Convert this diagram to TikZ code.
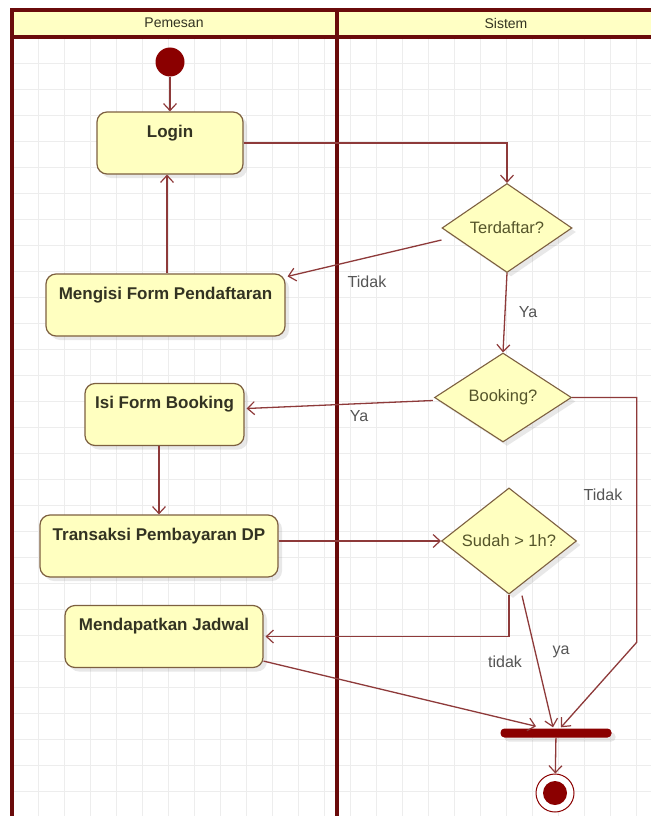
\documentclass[tikz,border=0pt]{standalone}
\usepackage{fontspec}
\setmainfont{Liberation Sans}
\usetikzlibrary{arrows.meta,shapes.geometric,shadows,calc}
\definecolor{lanec}{HTML}{6A0B0B}
\definecolor{hdr}{HTML}{FFFFC4}
\definecolor{nfill}{HTML}{FFFFC0}
\definecolor{nborder}{HTML}{7D6040}
\definecolor{conn}{HTML}{8E3A3A}
\definecolor{dotc}{HTML}{8B0000}
\definecolor{gridc}{HTML}{EDEDED}
\definecolor{ntext}{HTML}{333322}
\definecolor{dtext}{HTML}{55552A}
\definecolor{ltext}{HTML}{555555}
\begin{document}
\begin{tikzpicture}[x=1pt,y=-1pt,
  shade/.style={drop shadow={shadow xshift=4pt,shadow yshift=-4pt,opacity=0.18,fill=gray}},
  act/.style={draw=nborder, line width=1.2pt, fill=nfill, rounded corners=10pt,
    inner xsep=0pt, inner ysep=0pt, text height=25pt, text depth=37pt,
    font=\fontsize{17}{20}\selectfont\bfseries, text=ntext, shade},
  dec/.style={diamond, draw=nborder, line width=1.1pt, fill=nfill, inner sep=0pt,
    font=\fontsize{16.5}{19}\selectfont, text=dtext, shade},
  conn/.style={draw=conn, line width=1.3pt, -{Straight Barb[length=7pt,width=13pt,line width=1.2pt]}},
  lbl/.style={font=\fontsize{16}{19}\selectfont, text=ltext, inner sep=0pt},
  hdrtext/.style={font=\fontsize{14}{17}\selectfont, text=ntext, inner sep=0pt},
  lane/.style={draw=lanec, line width=3.5pt}]
\useasboundingbox (0,0) rectangle (651,816);
\fill[white] (0,0) rectangle (651,816);
% grid
\foreach \gx in {38,64,...,651} \draw[gridc, line width=0.7pt] (\gx,37) -- (\gx,816);
\foreach \gy in {63,89,...,816} \draw[gridc, line width=0.7pt] (12,\gy) -- (651,\gy);
% header and lanes
\fill[hdr] (12,10) rectangle (651,37);
\draw[lane] (10.25,10) -- (651,10);
\draw[lane] (12,37) -- (651,37);
\draw[lane] (12,10) -- (12,816);
\draw[lane] (337,10) -- (337,816);
\node[hdrtext] (h1) at (174,23) {Pemesan};
\node[hdrtext] (h2) at (506,23) {Sistem};
% nodes
\node[circle, fill=dotc, minimum size=29pt, inner sep=0pt] (start) at (170,62) {};
\node[act, minimum width=146pt] (login) at (170,143) {Login};
\node[act, minimum width=239pt] (mengisi) at (165.5,305) {Mengisi Form Pendaftaran};
\node[act, minimum width=159pt] (isi) at (164.5,414.5) {Isi Form Booking};
\node[act, minimum width=238pt] (transaksi) at (159,546) {Transaksi Pembayaran DP};
\node[act, minimum width=198pt] (mendapat) at (164,636.5) {Mendapatkan Jadwal};
\node[dec, minimum width=130pt, minimum height=89pt] (terdaftar) at (507,228) {Terdaftar?};
\node[dec, minimum width=137pt, minimum height=89pt] (booking) at (503,397.5) {Booking?};
\node[dec, minimum width=135pt, minimum height=92pt] (sudah) at (509,541) {Sudah > 1h?};
\node[rectangle, fill=dotc, minimum width=111pt, minimum height=9pt, inner sep=0pt, rounded corners=4pt, shade] (bar) at (556,733) {};
\node[circle, draw=dotc, line width=1pt, fill=white, minimum size=38pt, inner sep=0pt] (endout) at (555,793) {};
\node[circle, fill=dotc, minimum size=24pt, inner sep=0pt] (endin) at (endout) {};
% connectors
\draw[conn] (start) -- (login);
\draw[conn] (login.east) -| (terdaftar.north);
\draw[conn] ($(terdaftar.west)+(0,12)$) -- ($(mengisi.north east)+(2,3)$);
\draw[conn] (mengisi.north -| 167,0) -- (login.south -| 167,0);
\draw[conn] (terdaftar.south) -- (booking.north);
\draw[conn] ($(booking.west)+(-1,3)$) -- ($(isi.east)+(2,-6)$);
\draw[conn] (booking.east) -| ($(bar.north east)+(25,-86)$) -- ($(bar.north)+(5,-1)$);
\draw[conn] (isi.south -| transaksi.north) -- (transaksi.north);
\draw[conn] (transaksi.east |- sudah.west) -- (sudah.west);
\draw[conn] (sudah.south) |- ($(mendapat.east)+(2,0)$);
\draw[conn] ($(sudah.south)+(13,1)$) -- ($(bar.north)+(-3,-1)$);
\draw[conn] ($(mendapat.south east)+(0,-7)$) -- ($(bar.north)+(-20,-2)$);
\draw[conn] (bar) -- (endout);
% labels
\node[lbl] (l1) at (367,282) {Tidak};
\node[lbl] (l2) at (528,312) {Ya};
\node[lbl] (l3) at (359,416) {Ya};
\node[lbl] (l4) at (603,495) {Tidak};
\node[lbl] (l5) at (505,662) {tidak};
\node[lbl] (l6) at (561,652) {ya};
\end{tikzpicture}
\end{document}
